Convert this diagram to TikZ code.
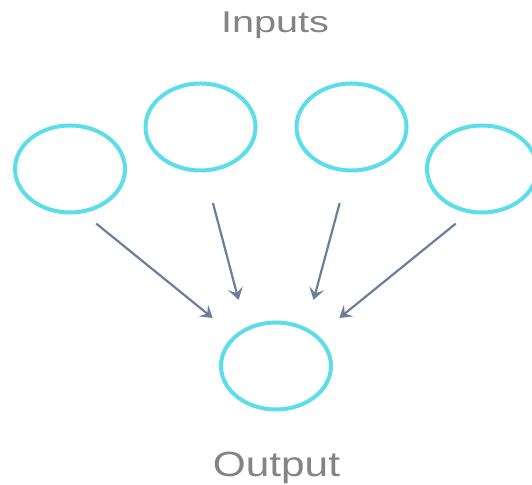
\documentclass[tikz,border=0pt]{standalone}
\usepackage{fontspec}
\setmainfont{Liberation Sans}
\usepackage{xcolor}
\usepackage{tikz}
\usetikzlibrary{positioning,shapes.geometric,arrows.meta}
\definecolor{NeuronCyan}{RGB}{92,222,234}
\definecolor{LinkBlue}{RGB}{108,126,156}
\definecolor{LabelGray}{RGB}{132,132,132}
\tikzset{
    neuron/.style={ellipse, draw=NeuronCyan, line width=2pt, fill=white, minimum width=55pt, minimum height=43.5pt, inner sep=0pt, outer sep=0pt},
    link/.style={draw=LinkBlue, line width=1.1pt, -{Stealth[length=6pt, width=7.5pt, inset=2.5pt]}},
    caption/.style={text=LabelGray, anchor=base, inner sep=0pt}
}
\begin{document}
\begin{tikzpicture}[x=0.5pt, y=0.5pt]
        % --- KHUNG ---
        \useasboundingbox (0,0) rectangle (532,485);

        % --- VẼ CÁC NÚT ---
        % Lớp đầu vào: 4 nút
        \node[neuron] (in1) at (70,316) {};
        \node[neuron] (in2) at (200.5,358) {};
        \node[neuron] (in3) at (351.5,358) {};
        \node[neuron] (in4) at (482,316) {};
        % Nút đầu ra
        \node[neuron] (out) at (276,119) {};

        % --- VẼ MŨI TÊN ---
        \draw[link, shorten <=9.6pt, shorten >=14.7pt] (in1.-75) -- (out.144);
        \draw[link, shorten <=16.9pt, shorten >=15.2pt] (in2.-85.4) -- (out.129);
        \draw[link, shorten <=16.9pt, shorten >=15.2pt] (in3.-94.6) -- (out.51);
        \draw[link, shorten <=9.6pt, shorten >=14.7pt] (in4.-105) -- (out.36);

        % --- NHÃN ---
        \node[caption, xscale=1.32, transform shape, font=\fontsize{15}{18}\selectfont] (inputs) at (275,452) {Inputs};
        \node[caption, xscale=1.21, transform shape, font=\fontsize{17.5}{21}\selectfont] (output) at (276.5,8.5) {Output};

    \end{tikzpicture}
\end{document}
